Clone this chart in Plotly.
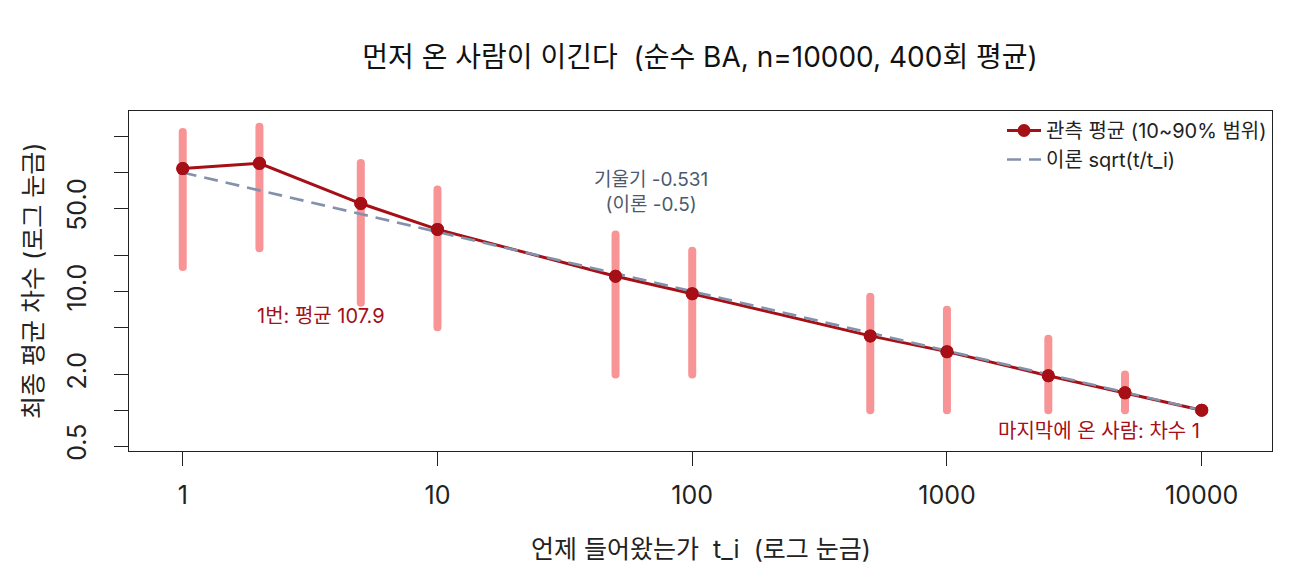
import numpy as np
import plotly.graph_objects as go

# ---- data ----
t_i = [1, 2, 5, 10, 50, 100, 500, 1000, 2500, 5000, 10000]
mean_degree = [107.9, 119.4, 54.8, 33.2, 13.4, 9.56, 4.22, 3.11, 1.95, 1.40, 1.0]
q10 = [16, 23, 8, 5, 2, 2, 1, 1, 1, 1, 1]
q90 = [219, 242, 120, 72, 30, 22, 9, 7, 4, 2, 1]
theory = [100.0, 70.71, 44.72, 31.62, 14.14, 10.0, 4.472, 3.162, 2.0, 1.414, 1.0]

x_tick_vals = [1, 10, 100, 1000, 10000]
x_tick_text = ["1", "10", "100", "1000", "10000"]
y_tick_vals = [0.5, 1, 2, 5, 10, 20, 50, 100, 200]
y_tick_text = ["0.5", "", "2.0", "", "10.0", "", "50.0", "", ""]

RED = "#a50f15"
BAR = "#f89496"
THEO = "#8391aa"
SLOPE = "#4d5a6e"
INK = "#222222"
FONT = "Inter, 'Noto Sans CJK KR', sans-serif"

# build error-bar segments from data
bx, by = [], []
for xv, lo, hi in zip(t_i, q10, q90):
    bx += [xv, xv, None]
    by += [lo, hi, None]

fig = go.Figure()
fig.add_trace(go.Scatter(x=bx, y=by, mode="lines", line=dict(color=BAR, width=8),
                         showlegend=False, hoverinfo="skip"))
fig.add_trace(go.Scatter(x=t_i, y=mean_degree, mode="lines+markers",
                         line=dict(color=RED, width=3),
                         marker=dict(color=RED, size=13),
                         name="관측 평균 (10~90% 범위)"))
fig.add_trace(go.Scatter(x=t_i, y=theory, mode="lines",
                         line=dict(color=THEO, width=2.6, dash="14px,8px"),
                         name="이론 sqrt(t/t_i)"))
fig.add_trace(go.Scatter(x=t_i, y=mean_degree, mode="markers",
                         marker=dict(color=RED, size=13), showlegend=False))

axis_common = dict(showline=True, mirror=True, linecolor=INK, linewidth=1.2,
                   ticks="outside", ticklen=14, tickwidth=1.2, tickcolor=INK,
                   showgrid=False, zeroline=False,
                   tickfont=dict(size=25, color=INK, family=FONT))

fig.update_xaxes(type="log", range=[-0.211, 4.276], tickvals=x_tick_vals,
                 ticktext=x_tick_text, ticklabelstandoff=8, **axis_common)
fig.update_yaxes(type="log", range=[-0.343, 2.517], tickvals=y_tick_vals,
                 ticktext=y_tick_text, tickangle=-90, ticklabelstandoff=18, **axis_common)

annotations = [
    dict(x=np.log10(3.5), y=np.log10(6.15), xref="x", yref="y", text="1번: 평균 107.9",
         xanchor="center", yanchor="middle",
         showarrow=False, font=dict(size=20, color=RED, family=FONT)),
    dict(x=np.log10(69), y=np.log10(69), xref="x", yref="y",
         text="기울기 -0.531<br>(이론 -0.5)", xanchor="center", yanchor="middle",
         showarrow=False, font=dict(size=19, color=SLOPE, family=FONT)),
    dict(x=np.log10(10000), y=np.log10(0.67), xref="x", yref="y",
         text="마지막에 온 사람: 차수 1", xanchor="right", yanchor="middle",
         showarrow=False, font=dict(size=20, color=RED, family=FONT)),
    dict(x=0.5, y=-(549 - 451) / 340, xref="paper", yref="paper",
         text="언제 들어왔는가  t_i  (로그 눈금)", showarrow=False,
         xanchor="center", yanchor="middle",
         font=dict(size=25, color=INK, family=FONT)),
    dict(x=-(129 - 33) / 1143, y=0.5, xref="paper", yref="paper",
         text="최종 평균 차수 (로그 눈금)", textangle=-90, showarrow=False,
         xanchor="center", yanchor="middle",
         font=dict(size=25, color=INK, family=FONT)),
]

fig.update_layout(
    width=1300, height=580,
    margin=dict(l=129, r=28, t=111, b=129),
    paper_bgcolor="white", plot_bgcolor="white",
    title=dict(text="먼저 온 사람이 이긴다  (순수 BA, n=10000, 400회 평균)",
               x=0.5385, xanchor="center", y=1 - 57 / 580, yanchor="middle",
               font=dict(size=28, color="#111111", family=FONT)),
    font=dict(family=FONT, color=INK),
    legend=dict(x=1, xanchor="right", y=1, yanchor="top", bgcolor="rgba(0,0,0,0)",
                font=dict(size=20, color=INK, family=FONT), itemwidth=34,
                tracegroupgap=0),
    annotations=annotations,
    showlegend=True,
)

post = """
document.body.style.margin = '0';
document.documentElement.style.margin = '0';
var paths = document.querySelectorAll('.scatterlayer .trace:first-child path.js-line');
paths.forEach(function(p){ p.style.strokeLinecap = 'round'; });
"""
fig.write_html("out.html", post_script=post, config={"displayModeBar": False})
